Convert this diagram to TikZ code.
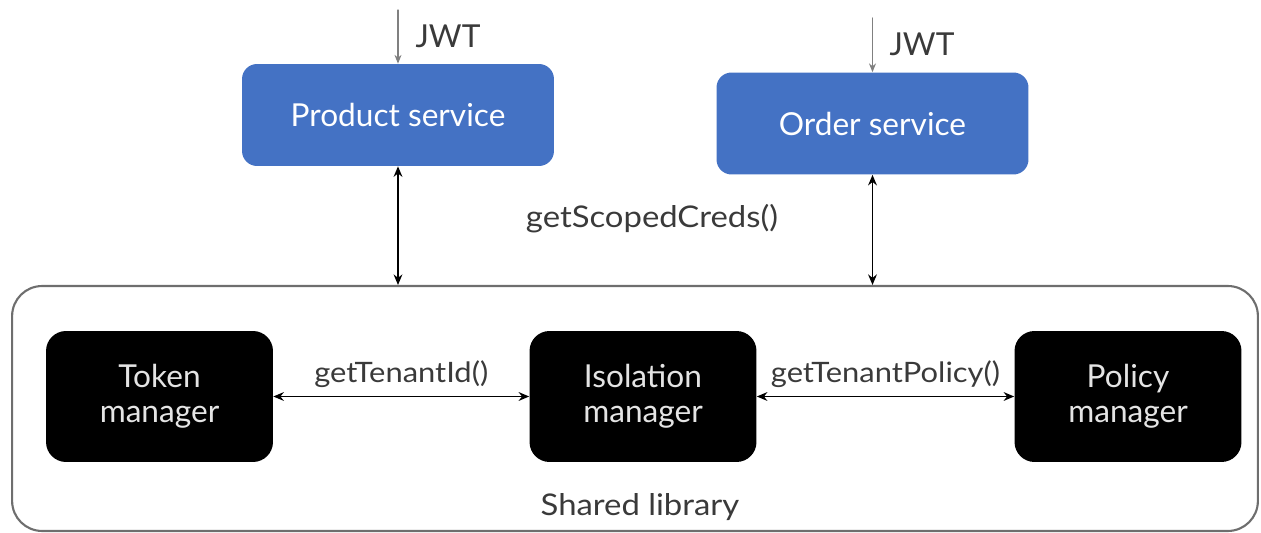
\documentclass[tikz,border=0pt]{standalone}
\usepackage{fontspec}
\setmainfont{Lato}
\newfontfamily\callfont[FakeStretch=1.1]{Lato}
\usetikzlibrary{positioning,arrows.meta}
\definecolor{svcblue}{HTML}{4472C4}
\definecolor{mgrtext}{HTML}{E4E4E4}
\definecolor{labeltext}{HTML}{3A3A3A}
\definecolor{libline}{HTML}{6E6E6E}
\begin{document}
\begin{tikzpicture}[
	x=0.02cm,
	y=-0.02cm,
	>={Stealth[length=6pt,width=5pt]},
	line cap=round,
	line join=round,
	service/.style={rounded corners=0.3cm, fill=svcblue, text=white, inner sep=0pt,
		minimum width=6.24cm, minimum height=2.04cm, font=\fontsize{18}{20}\selectfont},
	manager/.style={rounded corners=0.4cm, fill=black, text=mgrtext, inner sep=0pt, align=center,
		minimum width=4.54cm, minimum height=2.62cm, font=\fontsize{18}{20}\selectfont},
	call/.style={text=labeltext, font=\callfont\fontsize{16}{18}\selectfont},
	link/.style={<->, line width=0.9pt},
	token/.style={-{Stealth[length=5pt,width=4pt]}, line width=0.7pt, gray}
	]
	\useasboundingbox (0,0) rectangle (1261,533);
	% shared library frame
	\node[draw=libline, line width=1.2pt, rounded corners=0.6cm, minimum width=24.92cm, minimum height=4.9cm] (lib) at (635,408.5) {};
	\node[call, font=\callfont\fontsize{17}{19}\selectfont] (libname) at (640,507) {Shared library};
	% services
	\node[service] (prod) at (398,115) {Product service};
	\node[service] (order) at (872.5,123.5) {Order service};
	\coordinate (jwtprod) at (398,10);
	\coordinate (jwtorder) at (872.5,18);
	\draw[token] (jwtprod) -- (prod.north);
	\draw[token] (jwtorder) -- (order.north);
	\node[text=labeltext, font=\fontsize{18}{20}\selectfont] (jwta) at (448,36) {JWT};
	\node[text=labeltext, font=\fontsize{18}{20}\selectfont] (jwtb) at (922,44) {JWT};
	% managers
	\node[manager] (tok) at (159.5,396.5) {Token\\manager};
	\node[manager] (iso) at (643,396.5) {Isolation\\manager};
	\node[manager] (pol) at (1128,396.5) {Policy\\manager};
	% calls
	\draw[link] (prod.south) -- (prod.south |- lib.north);
	\draw[link] (order.south) -- (order.south |- lib.north);
	\node[call, font=\callfont\fontsize{17}{19}\selectfont] (scoped) at (652,219) {getScopedCreds()};
	\draw[link] (tok.east) -- (iso.west) node[call, midway, above=1pt] (tid) {getTenantId()};
	\draw[link] (iso.east) -- (pol.west) node[call, midway, above=1pt] (tpol) {getTenantPolicy()};
\end{tikzpicture}
\end{document}
